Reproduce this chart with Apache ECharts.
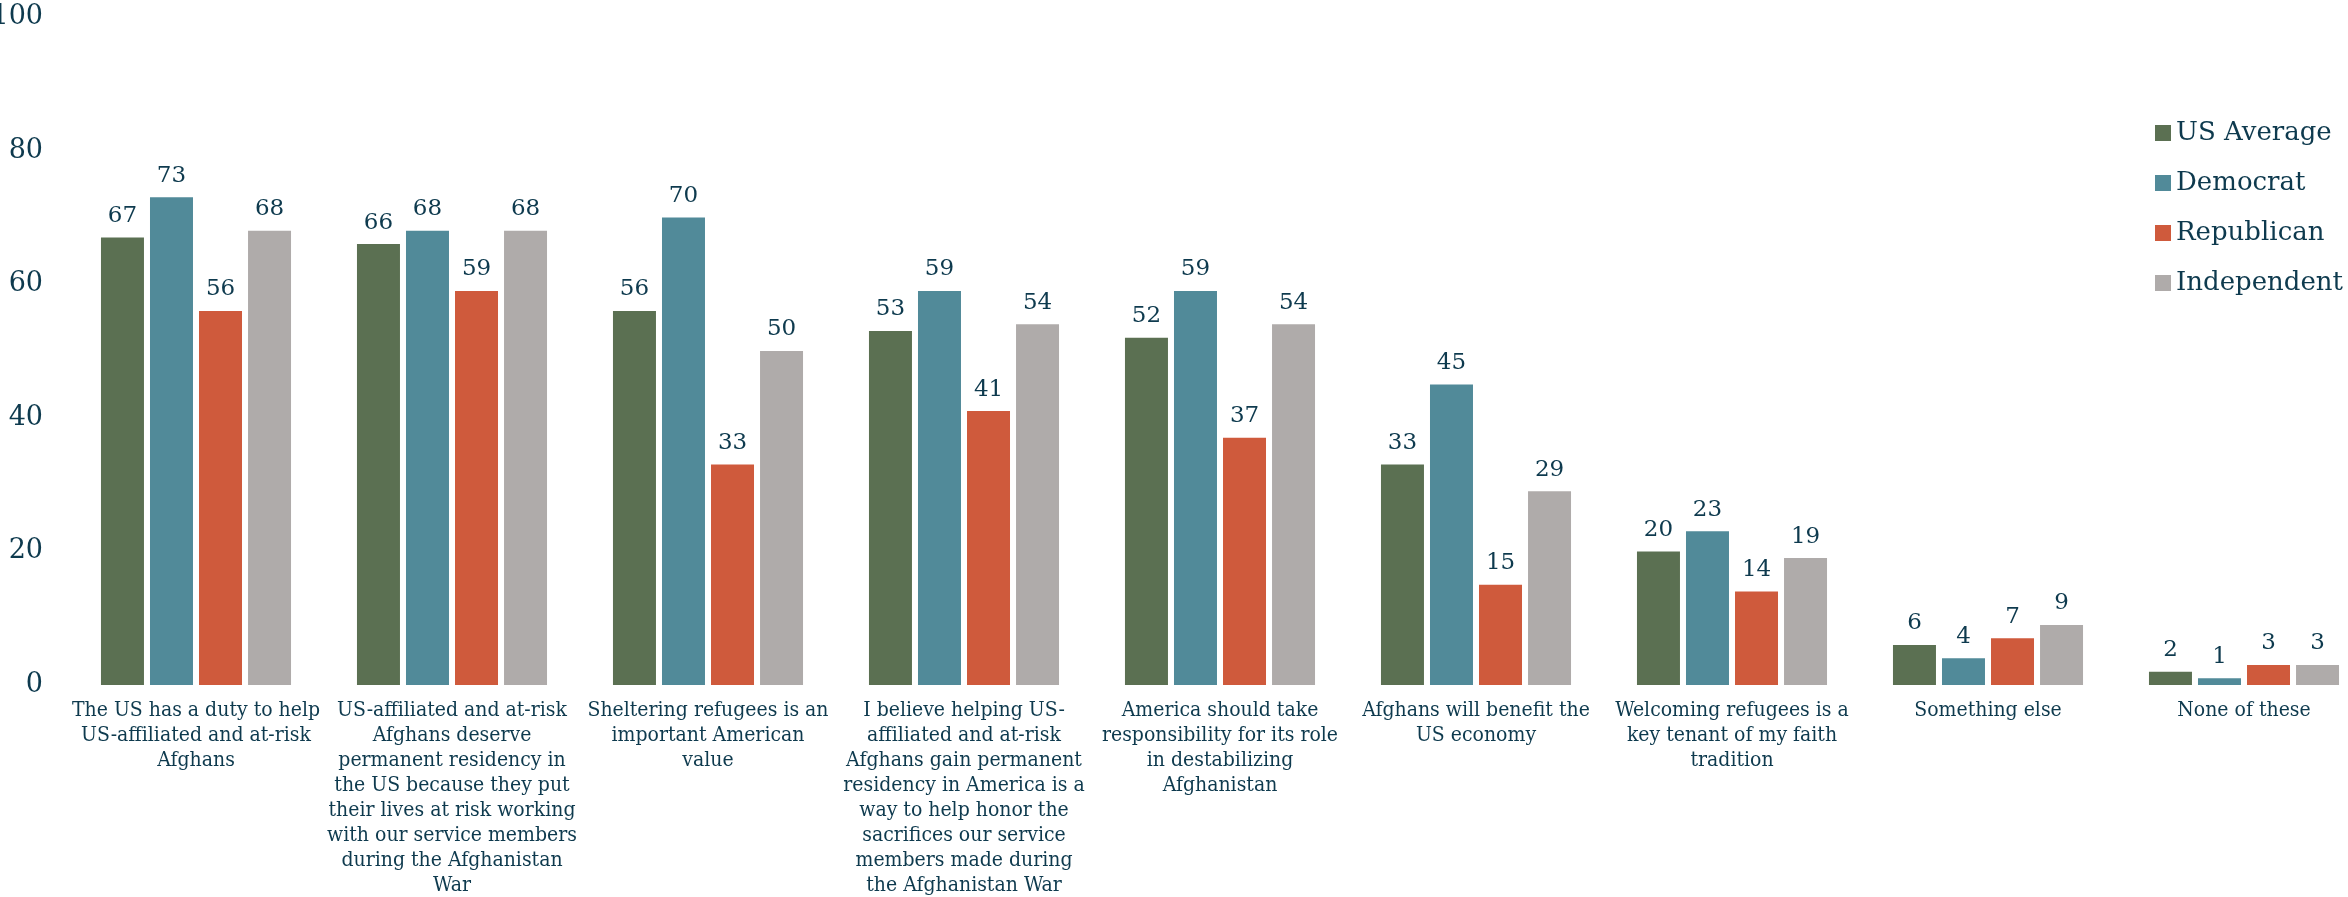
<!DOCTYPE html>
<html>
<head>
<meta charset="utf-8">
<script src="https://cdn.jsdelivr.net/npm/echarts@6/dist/echarts.min.js"></script>
<style>
html,body{margin:0;padding:0;background:#fff;}
#chart{width:2348px;height:897px;}
</style>
</head>
<body>
<div id="chart"></div>
<script>
const categories = [
  "The US has a duty to help\nUS-affiliated and at-risk\nAfghans",
  "US-affiliated and at-risk\nAfghans deserve\npermanent residency in\nthe US because they put\ntheir lives at risk working\nwith our service members\nduring the Afghanistan\nWar",
  "Sheltering refugees is an\nimportant American\nvalue",
  "I believe helping US-\naffiliated and at-risk\nAfghans gain permanent\nresidency in America is a\nway to help honor the\nsacrifices our service\nmembers made during\nthe Afghanistan War",
  "America should take\nresponsibility for its role\nin destabilizing\nAfghanistan",
  "Afghans will benefit the\nUS economy",
  "Welcoming refugees is a\nkey tenant of my faith\ntradition",
  "Something else",
  "None of these"
];
const seriesNames = ["US Average", "Democrat", "Republican", "Independent"];
const usAverage   = [67, 66, 56, 53, 52, 33, 20, 6, 2];
const democrat    = [73, 68, 70, 59, 59, 45, 23, 4, 1];
const republican  = [56, 59, 33, 41, 37, 15, 14, 7, 3];
const independent = [68, 68, 50, 54, 54, 29, 19, 9, 3];
const yTicks = [0, 20, 40, 60, 80, 100];

const colors = ["#5b7052", "#518a99", "#cf5a3c", "#afabaa"];
const textColor = "#0e3a4e";
const serif = "'DejaVu Serif', serif";
const serifCond = "'DejaVu Serif Condensed', 'DejaVu Serif', serif";

const values = [usAverage, democrat, republican, independent];

const chart = echarts.init(document.getElementById('chart'), null, {renderer: 'canvas'});
chart.setOption({
  animation: false,
  backgroundColor: '#ffffff',
  color: colors,
  grid: { left: 68, right: -24, top: 17, bottom: 212, containLabel: false, outerBoundsMode: 'none' },
  legend: {
    orient: 'vertical',
    left: 2150,
    top: 113,
    itemWidth: 16,
    itemHeight: 16,
    itemGap: 20,
    icon: 'rect',
    data: seriesNames,
    textStyle: { color: textColor, fontFamily: serif, fontSize: 26, lineHeight: 30 }
  },
  xAxis: {
    type: 'category',
    data: categories,
    axisLine: { show: false },
    axisTick: { show: false },
    axisLabel: {
      interval: 0,
      margin: 13,
      color: textColor,
      fontFamily: serifCond,
      fontSize: 21,
      lineHeight: 25,
      align: 'center',
      verticalAlign: 'top'
    }
  },
  yAxis: {
    type: 'value',
    min: yTicks[0],
    max: yTicks[yTicks.length - 1],
    interval: yTicks[1] - yTicks[0],
    splitLine: { show: false },
    axisLine: { show: false },
    axisTick: { show: false },
    axisLabel: { color: textColor, fontFamily: serif, fontSize: 27, margin: 25 }
  },
  series: seriesNames.map((name, i) => ({
    name: name,
    type: 'bar',
    data: values[i],
    barWidth: 43,
    barGap: '14%',
    itemStyle: { color: colors[i] },
    label: {
      show: true,
      position: 'top',
      distance: 10,
      color: textColor,
      fontFamily: serif,
      fontSize: 23
    }
  }))
});
</script>
</body>
</html>
